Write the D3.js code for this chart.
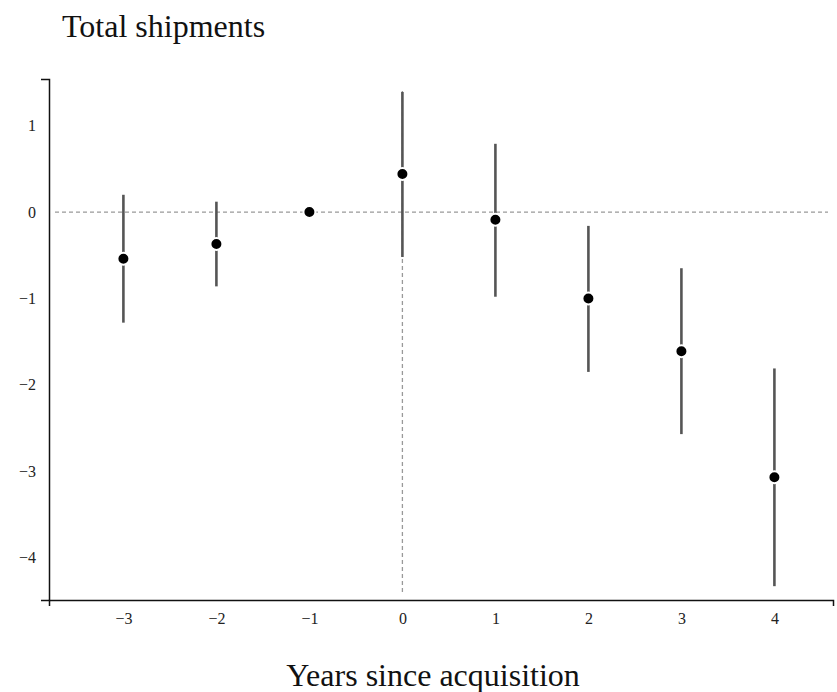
<!DOCTYPE html>
<html>
<head>
<meta charset="utf-8">
<script src="https://cdn.jsdelivr.net/npm/d3@7"></script>
<style>
  body { margin: 0; background: #fff; }
  text { font-family: "Liberation Serif", "DejaVu Serif", serif; }
</style>
</head>
<body>
<script>
// Event-study estimates
const years = [-3, -2, -1, 0, 1, 2, 3, 4];
const estimates = [-0.54, -0.37, 0, 0.44, -0.09, -1.0, -1.61, -3.07];
const ciLow = [-1.28, -0.86, null, -0.52, -0.98, -1.85, -2.57, -4.33];
const ciHigh = [0.20, 0.12, null, 1.39, 0.79, -0.16, -0.65, -1.81];
const yTicks = [-4, -3, -2, -1, 0, 1];

const width = 837, height = 692;
const plotLeft = 49, plotRight = 833, plotTop = 79, plotBottom = 600;

const svg = d3.select("body")
    .append("svg")
    .attr("width", width)
    .attr("height", height);

const x = d3.scaleLinear()
    .domain([-3.8, 4.63])
    .range([plotLeft, plotRight]);

const y = d3.scaleLinear()
    .domain([-4.49, 1.54])
    .range([plotBottom, plotTop]);

// reference lines at zero
svg.append("line")
    .attr("x1", plotLeft + 6).attr("x2", plotRight - 5)
    .attr("y1", y(0)).attr("y2", y(0))
    .attr("stroke", "#999").attr("stroke-width", 1.3)
    .attr("stroke-dasharray", "4,3");

svg.append("line")
    .attr("x1", x(0)).attr("x2", x(0))
    .attr("y1", plotTop + 12).attr("y2", plotBottom - 5)
    .attr("stroke", "#999").attr("stroke-width", 1.3)
    .attr("stroke-dasharray", "4,3");

// axes
const yAxis = svg.append("g")
    .attr("transform", `translate(${plotLeft},0)`)
    .call(d3.axisLeft(y).tickValues(yTicks).tickFormat(d3.format("d"))
        .tickSizeInner(0).tickSizeOuter(8).tickPadding(13));

const xAxis = svg.append("g")
    .attr("transform", `translate(0,${plotBottom})`)
    .call(d3.axisBottom(x).tickValues(years).tickFormat(d3.format("d"))
        .tickSizeInner(0).tickSizeOuter(6).tickPadding(13));

[yAxis, xAxis].forEach(g => {
  g.select(".domain").attr("stroke", "#111").attr("stroke-width", 1.5);
  g.selectAll("text").attr("font-size", 16).attr("fill", "#222")
      .attr("font-family", "'Liberation Serif', serif");
});

const rows = years.map((yr, i) => ({ yr, est: estimates[i], lo: ciLow[i], hi: ciHigh[i] }));

// confidence intervals
svg.append("g")
    .selectAll("line")
    .data(rows.filter(d => d.lo !== null))
    .join("line")
    .attr("x1", d => x(d.yr)).attr("x2", d => x(d.yr))
    .attr("y1", d => y(d.lo)).attr("y2", d => y(d.hi))
    .attr("stroke", "#555")
    .attr("stroke-width", 2.6);

// point estimates
svg.append("g")
    .selectAll("circle")
    .data(rows)
    .join("circle")
    .attr("cx", d => x(d.yr))
    .attr("cy", d => y(d.est))
    .attr("r", 6)
    .attr("fill", "#000")
    .attr("stroke", "#fff")
    .attr("stroke-width", 2);

// titles
svg.append("text")
    .attr("x", 62).attr("y", 37)
    .attr("font-size", 32)
    .attr("fill", "#111")
    .text("Total shipments");

svg.append("text")
    .attr("x", 433).attr("y", 686)
    .attr("text-anchor", "middle")
    .attr("font-size", 32)
    .attr("fill", "#111")
    .text("Years since acquisition");
</script>
</body>
</html>
